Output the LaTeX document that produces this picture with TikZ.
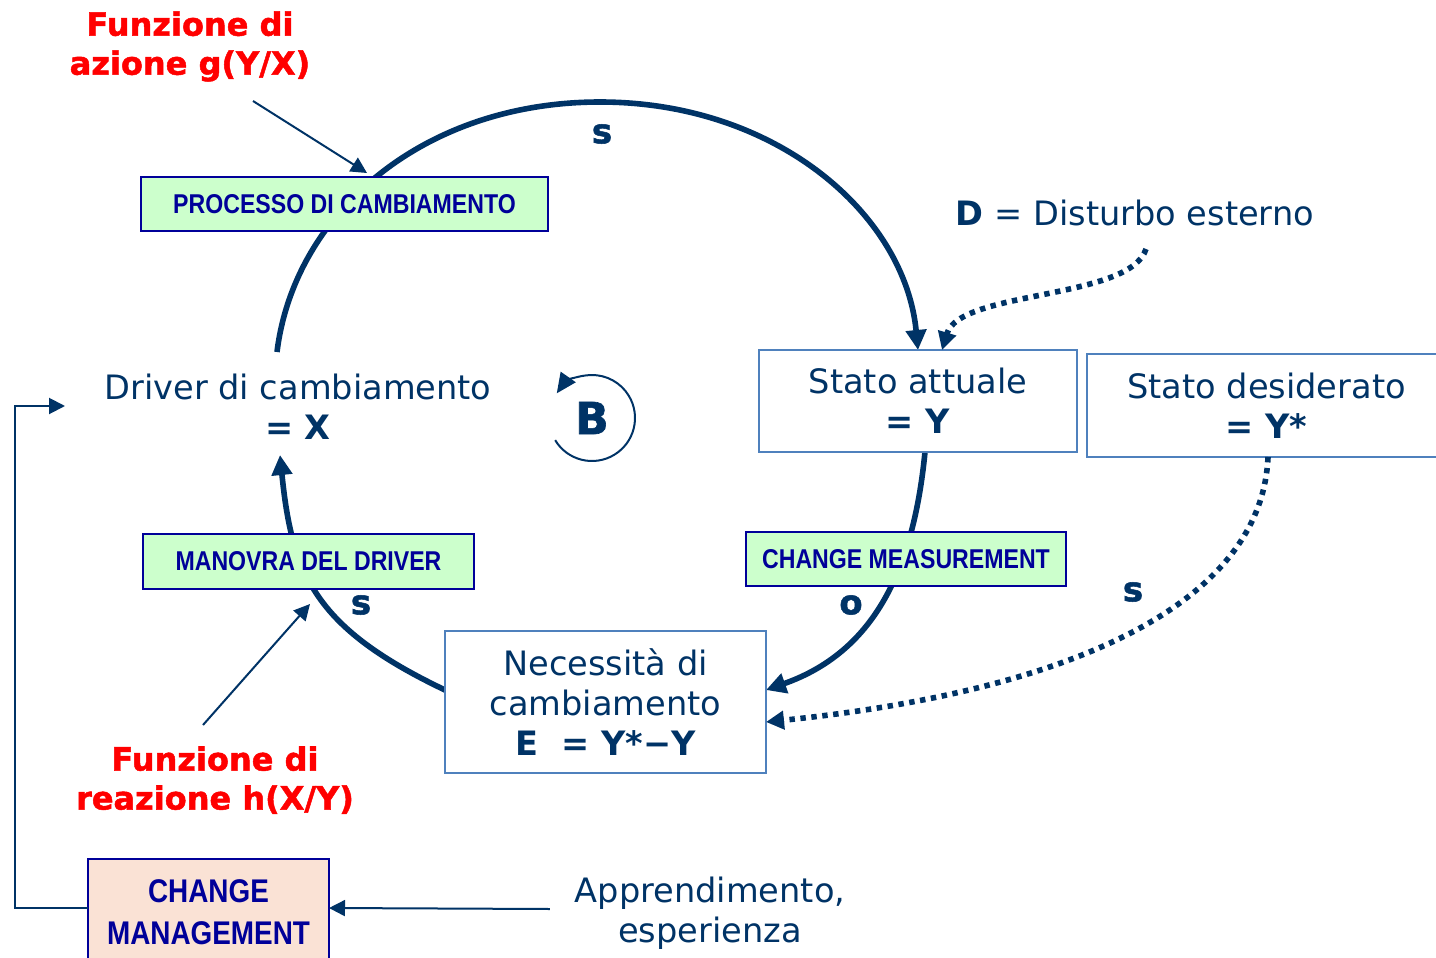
\documentclass[tikz,border=0pt]{standalone}
\usepackage{fontspec}
\setmainfont{DejaVu Sans}
\newfontfamily\narrowbf[FakeStretch=0.85]{Liberation Sans Bold}
\newfontfamily\heavy[FakeBold=1.5]{DejaVu Sans Bold}
\usetikzlibrary{arrows.meta}
\pgfdeclarelayer{background}
\pgfsetlayers{background,main}
\definecolor{loopnavy}{HTML}{003366}
\definecolor{boxnavy}{HTML}{000099}
\definecolor{paleblue}{HTML}{4F81BD}
\definecolor{mint}{HTML}{CCFFCC}
\definecolor{peach}{HTML}{FAE2D5}
\definecolor{alert}{HTML}{FF0000}

\begin{document}
\begin{tikzpicture}[x=0.5pt,y=-0.5pt,
  every node/.style={inner sep=0pt, outer sep=0pt},
  plain/.style={text=loopnavy, font=\fontsize{16.8}{20}\selectfont, align=center},
  state/.style={plain, draw=paleblue, line width=1pt, fill=white},
  stage/.style={draw=boxnavy, line width=1pt, fill=mint, text=boxnavy,
    font=\narrowbf\fontsize{13.6}{16}\selectfont},
  redlabel/.style={text=alert, font=\heavy\fontsize{16}{19.5}\selectfont, align=center},
  polarity/.style={text=loopnavy, font=\heavy\fontsize{17}{20}\selectfont},
  loopline/.style={draw=loopnavy, line width=2.8pt, -{Triangle[length=10pt,width=10pt]}},
  thinarrow/.style={draw=loopnavy, line width=1pt, -{Triangle[length=8pt,width=8pt]}},
  dotarrow/.style={draw=loopnavy, line width=2.8pt, dash pattern=on 2.7pt off 2.8pt,
    -{Triangle[length=9pt,width=9pt]}},
]
\useasboundingbox (0,0) rectangle (1436,958);

% variables and stages of the loop
\node[plain] (X) at (298,407) {Driver di cambiamento\\\textbf{= X}};
\node[state, minimum width=159pt, minimum height=51pt] (Y) at (918,401)
  {Stato attuale\\\textbf{= Y}};
\node[state, minimum width=179.5pt, minimum height=51.5pt] (Ys) at (1266.5,405.5)
  {Stato desiderato\\\textbf{= Y*}};
\node[state, minimum width=160.5pt, minimum height=71pt] (E) at (605.5,702)
  {Necessità di\\cambiamento\\\textbf{E\ \ = Y*−Y}};

\node[stage, minimum width=203.5pt, minimum height=27pt] (proc) at (344.5,204)
  {PROCESSO DI CAMBIAMENTO};
\node[stage, minimum width=165.5pt, minimum height=27.5pt] (manov) at (308.5,561.5)
  {MANOVRA DEL DRIVER};
\node[stage, minimum width=160pt, minimum height=27pt] (meas) at (906,559)
  {CHANGE MEASUREMENT};
\node[stage, fill=peach, minimum width=120.5pt, minimum height=53pt, align=center,
  font=\narrowbf\fontsize{16.4}{21}\selectfont] (cm) at (208.5,912) {CHANGE\\MANAGEMENT};

% labels
\node[redlabel] (gfun) at (190,46.5) {Funzione di\\azione g(Y/X)};
\node[redlabel] (hfun) at (215,780) {Funzione di\\reazione h(X/Y)};
\node[plain] (dist) at (1135,213) {\textbf{D} = Disturbo esterno};
\node[plain] (app) at (710,913) {Apprendimento,\\esperienza};
\node[polarity] (s1) at (602,134) {s};
\node[polarity] (s2) at (361,605) {s};
\node[polarity] (o1) at (851,605) {o};
\node[polarity] (s3) at (1133,592) {s};
\node[text=loopnavy, font=\heavy\fontsize{22}{24}\selectfont] (B) at (592,418) {B};

% loop ends
\coordinate (xTop) at (277,352);
\coordinate (xBot) at (280,455);
\coordinate (loopTop) at (600,102);
\coordinate (dTail) at (1146,249);
\coordinate (gTail) at (253,101);
\coordinate (hTail) at (203,725);
\coordinate (xIn) at (65,406);

\begin{pgfonlayer}{background}
  \fill[white] (0,0) rectangle (1436,958);
  % balancing loop
  \draw[loopline] (xTop) .. controls (294,214) and (422,102) .. (loopTop)
    .. controls (777,102) and (905,215) .. (Y.north);
  \draw[loopline] ([xshift=3.5pt]Y.south) .. controls (913,575) and (871,653)
    .. ([yshift=6pt]E.east);
  \draw[loopline] ([yshift=6pt]E.west) .. controls (315,628) and (292,575) .. (xBot);
\end{pgfonlayer}

% external influences
\draw[dotarrow] (dTail) .. controls (1130,300) and (960,290) .. ([xshift=12pt]Y.north);
\draw[dotarrow] ([xshift=0.75pt]Ys.south) .. controls (1262,600) and (1080,690)
  .. ([yshift=-10pt]E.east);

\draw[thinarrow] (gTail) -- ([xshift=11.25pt,yshift=2pt]proc.north);
\draw[thinarrow] (hTail) -- ([xshift=0.75pt,yshift=-7.5pt]manov.south);
\draw[thinarrow] ([yshift=2pt]cm.west) -- ++(-73,0) |- (xIn);
\draw[thinarrow] ([xshift=-12.5pt,yshift=2pt]app.west) -- ([yshift=2pt]cm.east);

% loop direction marker
\draw[draw=loopnavy, line width=1pt, -{Triangle[length=10pt,width=9pt]}]
  (B) ++(149:43) arc[start angle=149, end angle=-145, radius=43];
\end{tikzpicture}
\end{document}
